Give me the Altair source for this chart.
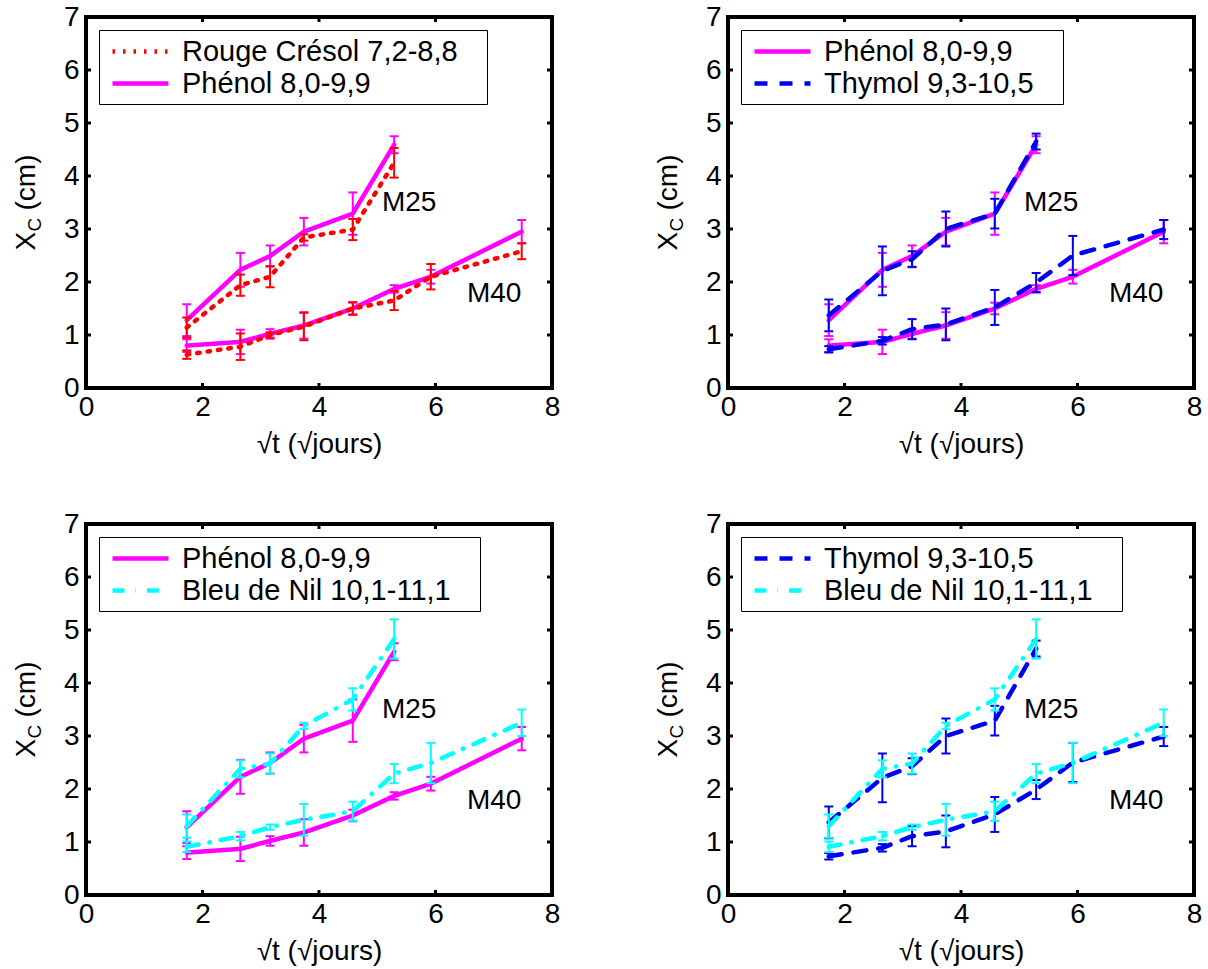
import altair as alt
import pandas as pd

# ---------------- data ----------------
X = [1.73, 2.65, 3.16, 3.74, 4.58, 5.29, 5.92, 7.48]

ROUGE_M25 = [1.14, 1.94, 2.10, 2.84, 2.99, 4.25]
ROUGE_M25_ERR = [0.19, 0.20, 0.20, 0.06, 0.20, 0.28]
ROUGE_M40 = [0.63, 0.78, 1.00, 1.16, 1.50, 1.65, 2.10, 2.58]
ROUGE_M40_ERR = [0.08, 0.25, 0.05, 0.26, 0.12, 0.18, 0.24, 0.15]

PHENOL_M25 = [1.28, 2.23, 2.49, 2.95, 3.29, 4.59]
PHENOL_M25_ERR = [0.30, 0.32, 0.20, 0.26, 0.40, 0.16]
PHENOL_M40 = [0.80, 0.87, 1.02, 1.18, 1.50, 1.87, 2.10, 2.95]
PHENOL_M40_ERR = [0.12, 0.23, 0.09, 0.25, 0.11, 0.07, 0.13, 0.22]

THYMOL_M25 = [1.37, 2.21, 2.43, 3.00, 3.29, 4.65]
THYMOL_M25_ERR = [0.30, 0.46, 0.15, 0.33, 0.28, 0.15]
THYMOL_M40 = [0.73, 0.89, 1.11, 1.20, 1.52, 1.99, 2.50, 2.99]
THYMOL_M40_ERR = [0.06, 0.07, 0.19, 0.30, 0.33, 0.18, 0.37, 0.18]

NIL_M25 = [1.30, 2.38, 2.48, 3.19, 3.69, 4.83]
NIL_M25_ERR = [0.22, 0.16, 0.19, 0.06, 0.21, 0.37]
NIL_M40 = [0.91, 1.11, 1.28, 1.42, 1.58, 2.29, 2.49, 3.25]
NIL_M40_ERR = [0.10, 0.08, 0.05, 0.30, 0.18, 0.18, 0.38, 0.25]

X_TICKS = [0, 2, 4, 6, 8]
Y_TICKS = [0, 1, 2, 3, 4, 5, 6, 7]
X_INNER_TICKS = [2, 4, 6]
Y_INNER_TICKS = [1, 2, 3, 4, 5, 6]

N_ROUGE = "Rouge Crésol 7,2-8,8"
N_PHENOL = "Phénol 8,0-9,9"
N_THYMOL = "Thymol 9,3-10,5"
N_NIL = "Bleu de Nil 10,1-11,1"

# ---------------- styles ----------------
F = "Liberation Sans"
FS = 28
FSL = 29
W, H = 466, 371
STYLE = {
    N_ROUGE: ("#FF0000", [2.5, 8]),
    N_PHENOL: ("#FF00FF", [1, 0]),
    N_THYMOL: ("#0000F0", [13, 12]),
    N_NIL: ("#00FFFF", [12, 11, 0.5, 11]),
}
DATA = {
    N_ROUGE: (ROUGE_M25, ROUGE_M25_ERR, ROUGE_M40, ROUGE_M40_ERR),
    N_PHENOL: (PHENOL_M25, PHENOL_M25_ERR, PHENOL_M40, PHENOL_M40_ERR),
    N_THYMOL: (THYMOL_M25, THYMOL_M25_ERR, THYMOL_M40, THYMOL_M40_ERR),
    N_NIL: (NIL_M25, NIL_M25_ERR, NIL_M40, NIL_M40_ERR),
}


def series_df(name):
    m25, e25, m40, e40 = DATA[name]
    rows = []
    for i, (v, e) in enumerate(zip(m25, e25)):
        rows.append({"x": X[i], "y": v, "lo": v - e, "hi": v + e, "groupe": "M25", "serie": name})
    for i, (v, e) in enumerate(zip(m40, e40)):
        rows.append({"x": X[i], "y": v, "lo": v - e, "hi": v + e, "groupe": "M40", "serie": name})
    return pd.DataFrame(rows)


xs = alt.Scale(domain=[0, 8], nice=False, zero=False)
ys = alt.Scale(domain=[0, 7], nice=False, zero=False)
xax = alt.Axis(values=X_TICKS, format="d", domain=False, ticks=False, grid=False,
               labelFont=F, labelFontSize=FS, labelColor="black", labelPadding=5,
               labelFlush=False, title="√t (√jours)", titleFont=F, titleFontSize=FS,
               titleFontWeight="normal", titleColor="black", titlePadding=9)
yax = alt.Axis(values=Y_TICKS, format="d", domain=False, ticks=False, grid=False,
               labelFont=F, labelFontSize=FS, labelColor="black", labelPadding=7,
               labelFlush=False, title=None)

one = pd.DataFrame({"k": [0]})


def panel(order, draw):
    colors = [STYLE[n][0] for n in order]
    dashes = [STYLE[n][1] for n in order]
    leg = alt.Legend(
        title=None, orient="none", legendX=13, legendY=13, direction="vertical",
        symbolType="M-2,0H2", symbolSize=784, symbolStrokeWidth=4.5, symbolOpacity=1,
        labelFont=F, labelFontSize=FSL, labelColor="black", labelLimit=1000,
        symbolOffset=20, labelOffset=25, padding=5, rowPadding=0,
        strokeColor="black", fillColor="white",
        labelExpr="datum.label + '\u00a0\u00a0\u00a0\u200b'",
    )
    cscale = alt.Scale(domain=order, range=colors)
    dscale = alt.Scale(domain=order, range=dashes)
    layers = []
    for name in draw:
        df = series_df(name)
        base = alt.Chart(df)
        line = base.mark_line(strokeWidth=4.5, strokeCap="round", strokeJoin="round",
                              opacity=1).encode(
            x=alt.X("x:Q", scale=xs, axis=xax),
            y=alt.Y("y:Q", scale=ys, axis=yax),
            color=alt.Color("serie:N", scale=cscale, legend=leg),
            strokeDash=alt.StrokeDash("serie:N", scale=dscale, legend=leg),
            detail="groupe:N",
        )
        err = base.mark_errorbar(ticks=True, size=9, thickness=2, opacity=1).encode(
            x=alt.X("x:Q", scale=xs, axis=xax),
            y=alt.Y("lo:Q", scale=ys, axis=yax),
            y2="hi:Q",
            color=alt.Color("serie:N", scale=cscale, legend=leg),
        )
        layers += [line, err]

    # inward ticks (MATLAB box style)
    xt = alt.Chart(pd.DataFrame({"t": X_INNER_TICKS}))
    yt = alt.Chart(pd.DataFrame({"t": Y_INNER_TICKS}))
    tx1 = xt.mark_rule(color="black", strokeWidth=3).encode(
        x=alt.X("t:Q", scale=xs, axis=xax), y=alt.value(H), y2=alt.value(H - 5))
    tx2 = xt.mark_rule(color="black", strokeWidth=3).encode(
        x=alt.X("t:Q", scale=xs, axis=xax), y=alt.value(0), y2=alt.value(5))
    ty1 = yt.mark_rule(color="black", strokeWidth=3).encode(
        y=alt.Y("t:Q", scale=ys, axis=yax), x=alt.value(0), x2=alt.value(5))
    ty2 = yt.mark_rule(color="black", strokeWidth=3).encode(
        y=alt.Y("t:Q", scale=ys, axis=yax), x=alt.value(W), x2=alt.value(W - 5))

    # group labels
    tm25 = alt.Chart(one).mark_text(text="M25", align="left", baseline="middle",
                                    font=F, fontSize=FS, color="black").encode(
        x=alt.XDatum(5.08, scale=xs, axis=xax), y=alt.YDatum(3.5, scale=ys, axis=yax))
    tm40 = alt.Chart(one).mark_text(text="M40", align="left", baseline="middle",
                                    font=F, fontSize=FS, color="black").encode(
        x=alt.XDatum(6.54, scale=xs, axis=xax), y=alt.YDatum(1.78, scale=ys, axis=yax))

    # y title X_C (cm), rotated, with subscript
    ty_x = alt.Chart(one).mark_text(text="X", angle=270, align="left", baseline="alphabetic",
                                    font=F, fontSize=FS, color="black", dx=-48).encode(
        x=alt.value(-51), y=alt.value(H / 2))
    ty_c = alt.Chart(one).mark_text(text="C", angle=270, align="left", baseline="alphabetic",
                                    font=F, fontSize=19, color="black", dx=-29, dy=6).encode(
        x=alt.value(-51), y=alt.value(H / 2))
    ty_cm = alt.Chart(one).mark_text(text="(cm)", angle=270, align="left", baseline="alphabetic",
                                     font=F, fontSize=FS, color="black", dx=-8).encode(
        x=alt.value(-51), y=alt.value(H / 2))

    return alt.layer(*layers, tx1, tx2, ty1, ty2, tm25, tm40, ty_x, ty_c, ty_cm).properties(
        width=W, height=H)


p1 = panel([N_ROUGE, N_PHENOL], [N_PHENOL, N_ROUGE])
p2 = panel([N_PHENOL, N_THYMOL], [N_PHENOL, N_THYMOL])
p3 = panel([N_PHENOL, N_NIL], [N_PHENOL, N_NIL])
p4 = panel([N_THYMOL, N_NIL], [N_THYMOL, N_NIL])

chart = alt.concat(
    p1, p2, p3, p4, columns=2, spacing={"row": 136, "column": 176}, bounds="flush"
).resolve_scale(
    color="independent", strokeDash="independent"
).properties(
    padding={"left": 11, "top": 1, "right": 0, "bottom": 0},
    background="white",
).configure_view(
    stroke="black", strokeWidth=4
)

chart.save("out.html", embed_options={"renderer": "svg", "actions": False})
